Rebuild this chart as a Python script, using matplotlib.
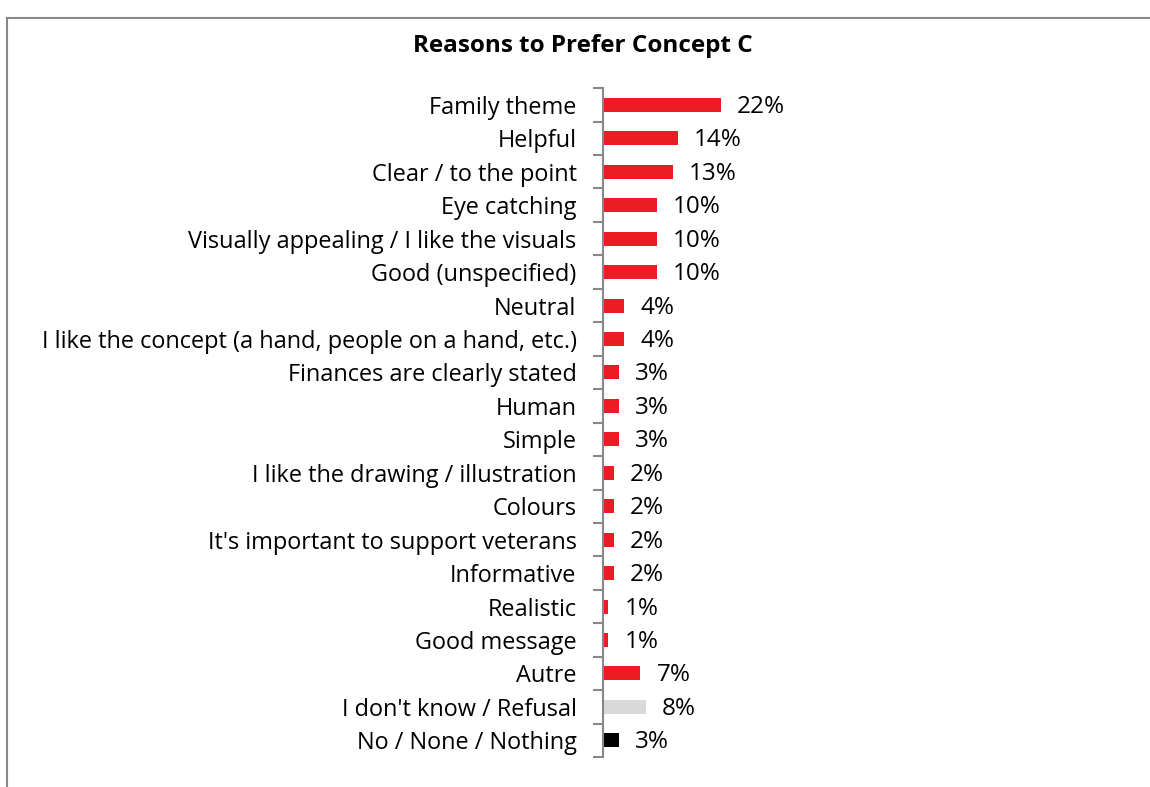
import matplotlib.pyplot as plt
from matplotlib.lines import Line2D

plt.rcParams['font.family'] = ['Open Sans', 'DejaVu Sans']

reasons = [
    "Family theme", "Helpful", "Clear / to the point", "Eye catching",
    "Visually appealing / I like the visuals", "Good (unspecified)", "Neutral",
    "I like the concept (a hand, people on a hand, etc.)",
    "Finances are clearly stated", "Human", "Simple",
    "I like the drawing / illustration", "Colours",
    "It's important to support veterans", "Informative", "Realistic",
    "Good message", "Autre", "I don't know / Refusal", "No / None / Nothing",
]
pct = [22, 14, 13, 10, 10, 10, 4, 4, 3, 3, 3, 2, 2, 2, 2, 1, 1, 7, 8, 3]
colors = ["#ED1C24"] * 18 + ["#D9D9D9", "#000000"]

fig = plt.figure(figsize=(11.5, 7.87), dpi=100)
ax = fig.add_axes([0.5243, 0.038, 0.2, 0.85])

y = list(range(len(reasons)))
ax.barh(y, pct, height=0.42, color=colors)
ax.set_ylim(len(reasons) - 0.5, -0.5)
ax.set_xlim(0, 42.9)

for yi, v in zip(y, pct):
    ax.text(v + 3.0, yi + 0.06, f"{v}%", va="center", ha="left", fontsize=17.5)

ax.set_yticks(y)
ax.set_yticklabels(reasons, fontsize=16.9)
ax.tick_params(axis="y", length=0, pad=19)
ax.set_yticks([i - 0.5 for i in range(len(reasons) + 1)], minor=True)
ax.tick_params(axis="y", which="minor", length=7, width=1.5, color="#888888")
ax.set_xticks([])
for s in ["top", "right", "bottom"]:
    ax.spines[s].set_visible(False)
ax.spines["left"].set_color("#888888")
ax.spines["left"].set_linewidth(1.5)

fig.text(0.507, 0.942, "Reasons to Prefer Concept C", ha="center", va="center",
         fontsize=17.5, fontweight="bold")

# outer chart frame
fig.add_artist(Line2D([0.0065, 0.0065], [0, 0.977], transform=fig.transFigure,
                      color="#888888", lw=1.5))
fig.add_artist(Line2D([0.0065, 1], [0.977, 0.977], transform=fig.transFigure,
                      color="#888888", lw=1.5))

fig.savefig("out.png", dpi=100)
